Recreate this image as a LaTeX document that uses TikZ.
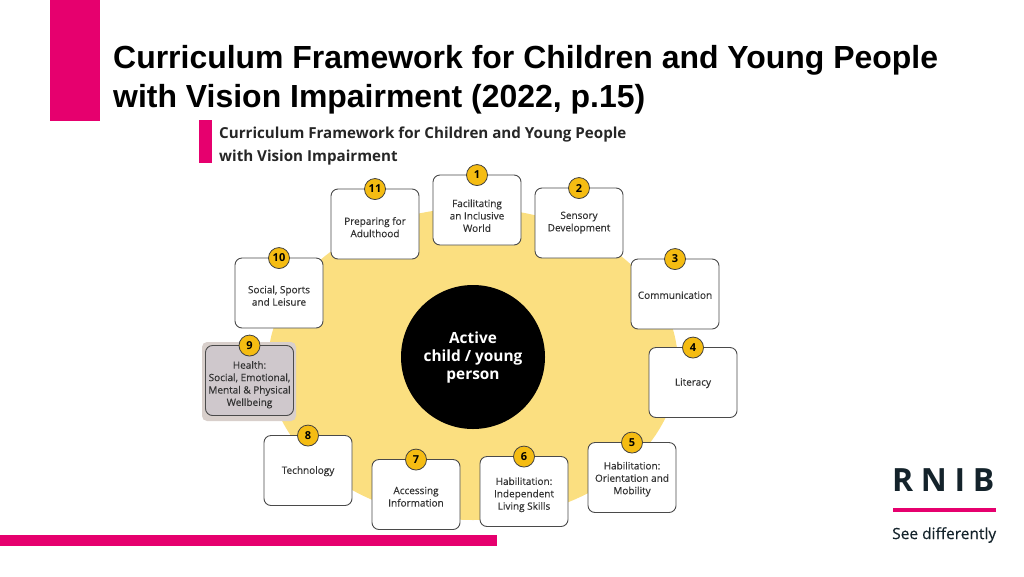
\documentclass[tikz,border=0pt]{standalone}
\usepackage{fontspec}
\setmainfont{Liberation Sans}
\newfontfamily\chartfont{Open Sans}
\newfontfamily\boxfont[FakeBold=0.35]{Open Sans}
\usetikzlibrary{positioning}

\definecolor{rnibpink}{HTML}{E6006E}
\definecolor{wheelyellow}{HTML}{FBDF80}
\definecolor{badgeyellow}{HTML}{F5BC12}
\definecolor{boxline}{HTML}{4A4A4A}
\definecolor{healthfill}{HTML}{CFC8CC}
\definecolor{healthglow}{HTML}{D8CFCB}
\definecolor{logoink}{HTML}{14232B}

\tikzset{
  infobox/.style={draw=boxline, line width=0.9pt, fill=white, rounded corners=7pt,
    minimum width=88pt, minimum height=70pt, inner sep=0pt},
  infotext/.style={font=\boxfont\fontsize{10}{12.4}\selectfont, text=black!80, align=center, inner sep=0pt, yshift=0.8pt},
  badge/.style={circle, draw=black!75, line width=0.8pt, fill=badgeyellow, minimum size=21pt, inner sep=0pt,
    yshift=-0.5pt, font=\chartfont\bfseries\fontsize{11}{11}\selectfont},
  headline/.style={font=\bfseries\fontsize{31.95}{39}\selectfont, align=left, anchor=west, inner sep=0pt},
  charthead/.style={font=\chartfont\bfseries\fontsize{15.15}{23}\selectfont, text=black!85, align=left, anchor=west, inner sep=0pt},
}

\begin{document}
\begin{tikzpicture}[x=1pt, y=-1pt]
\useasboundingbox (0,0) rectangle (1024,576);

\def\xmid{473};
\def\ymid{357};

\fill [rnibpink] (50,0) rectangle (100,121);
\fill [rnibpink] (0,535) rectangle (497,546);
\node [headline] (title) at (113,79.5) {Curriculum Framework for Children and Young People\\with Vision Impairment (2022, p.15)};

\fill [rnibpink] (199,120) rectangle (212,163);
\node [charthead] (charttitle) at (219,146) {Curriculum Framework for Children and Young People\\with Vision Impairment};

\fill [wheelyellow] (\xmid,364) ellipse (205 and 156);
\node [circle, fill=black, minimum size=144pt, inner sep=0pt, text=white, align=center,
  font=\chartfont\bfseries\fontsize{15.4}{18}\selectfont] (person) at (\xmid,\ymid) {Active\\child / young\\person};

\node [infobox] (inclusive) at (477,210) {};
\node [infotext] (inclusivetext) at (477,216.5) {Facilitating\\an Inclusive\\World};
\node [badge] (one) at (inclusive.north) {1};

\node [infobox] (sensory) at (579,223) {};
\node [infotext] (sensorytext) at (579,223.5) {Sensory\\Development};
\node [badge] (two) at (sensory.north) {2};

\node [infobox] (communication) at (675,294) {};
\node [infotext] (communicationtext) at (675,296) {Communication};
\node [badge] (three) at (communication.north) {3};

\node [infobox] (literacy) at (693,382.5) {};
\node [infotext] (literacytext) at (693,384) {Literacy};
\node [badge] (four) at (literacy.north) {4};

\node [infobox] (orientation) at (632,477.5) {};
\node [infotext] (orientationtext) at (632,480) {Habilitation:\\Orientation and\\Mobility};
\node [badge] (five) at (orientation.north) {5};

\node [infobox] (living) at (524,491.5) {};
\node [infotext] (livingtext) at (524,495.5) {Habilitation:\\Independent\\Living Skills};
\node [badge] (six) at (living.north) {6};

\node [infobox] (access) at (416,494.5) {};
\node [infotext] (accesstext) at (416,497.5) {Accessing\\Information};
\node [badge] (seven) at (access.north) {7};

\node [infobox] (technology) at (308,470.5) {};
\node [infotext] (technologytext) at (308,472) {Technology};
\node [badge] (eight) at (technology.north) {8};

\fill [healthglow, rounded corners=5pt] (202,342) rectangle (296,421);
\node [infobox, fill=healthfill] (health) at (249.5,380.5) {};
\node [infotext] (healthtext) at (249.5,385.5) {Health:\\Social, Emotional,\\Mental \& Physical\\Wellbeing};
\node [badge] (nine) at (health.north) {9};

\node [infobox] (social) at (279,293) {};
\node [infotext] (socialtext) at (279,296.5) {Social, Sports\\and Leisure};
\node [badge] (ten) at (social.north) {10};

\node [infobox] (adulthood) at (375,224) {};
\node [infotext] (adulthoodtext) at (375,228) {Preparing for\\Adulthood};
\node [badge] (eleven) at (adulthood.north) {11};

\node [anchor=west, inner sep=0pt, text=logoink, font=\chartfont\bfseries\addfontfeature{LetterSpace=24}\fontsize{32}{32}\selectfont] (rnib) at (892,480.5) {RNIB};
\fill [rnibpink] (893,508) rectangle (996,512);
\node [anchor=west, inner sep=0pt, text=logoink, font=\boxfont\fontsize{15.5}{18}\selectfont] (strapline) at (892,535) {See differently};

\end{tikzpicture}
\end{document}
